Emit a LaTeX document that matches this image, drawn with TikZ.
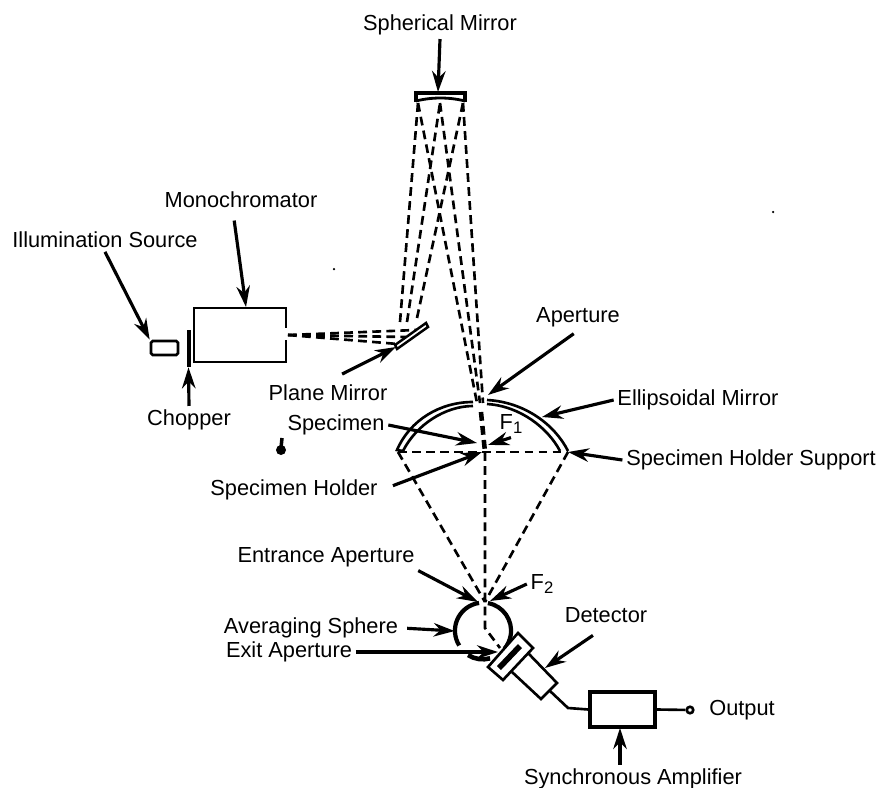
\documentclass[tikz,border=0pt]{standalone}
\usepackage{fontspec}
\setmainfont{Liberation Sans}
\usetikzlibrary{arrows.meta,calc}
\newcommand{\subnum}[1]{\raisebox{-2.5pt}{\fontsize{9.5}{11}\selectfont #1}}
\tikzset{
  lbl/.style={font=\fontsize{12.4}{15}\selectfont,inner sep=2pt},
  pointer/.style={line width=1.8pt,-{Stealth[length=4.2mm,width=2.7mm]}},
  ray/.style={line width=1.5pt,dash pattern=on 5pt off 3pt},
  part/.style={draw,line width=1.5pt,inner sep=0pt}
}
\begin{document}
\begin{tikzpicture}[x=0.02cm,y=-0.02cm]
\useasboundingbox (0,0) rectangle (876,788);
% labels
\node[lbl] (lblSpherical) at (440,25) {Spherical Mirror};
\node[lbl] (lblMono) at (241,200) {Monochromator};
\node[lbl] (lblSource) at (105,240) {Illumination Source};
\node[lbl] (lblChopper) at (189,420) {Chopper};
\node[lbl] (lblPlane) at (328,393) {Plane Mirror};
\node[lbl] (lblAperture) at (578,317) {Aperture};
\node[lbl] (lblEllipsoidal) at (698,400) {Ellipsoidal Mirror};
\node[lbl] (lblSpecimen) at (336,425) {Specimen};
\node[lbl] (lblHolder) at (294,490) {Specimen Holder};
\node[lbl] (lblSupport) at (751,460) {Specimen Holder Support};
\node[lbl] (lblFa) at (511,424) {F\subnum{1}};
\node[lbl] (lblFb) at (542,584) {F\subnum{2}};
\node[lbl] (lblEntrance) at (326,557) {Entrance Aperture};
\node[lbl] (lblAveraging) at (311,628) {Averaging Sphere};
\node[lbl] (lblExit) at (289,652) {Exit Aperture};
\node[lbl] (lblDetector) at (606,615) {Detector};
\node[lbl] (lblOutput) at (742,710) {Output};
\node[lbl] (lblSync) at (633,779) {Synchronous Amplifier};
% source, chopper, monochromator
\node[part,minimum width=0.54cm,minimum height=0.28cm,rounded corners=1pt] (lamp) at (164.5,348) {};
\node[fill=black,minimum width=0.08cm,minimum height=0.74cm,inner sep=0pt] (chopper) at (188.5,348.5) {};
\node[part,minimum width=1.84cm,minimum height=1.08cm] (mono) at (240,335) {};
\fill[white] (283,328) rectangle (289,340);
% plane mirror
\draw[line width=1.4pt] (395,345) -- (426,323) -- (428,327) -- (397,349) -- cycle;
% spherical mirror
\draw[line width=2pt] (416,102) -- (416,93) -- (465,93) -- (465,102);
\draw[line width=1.6pt] (416,101) .. controls (432,97) and (449,97) .. (465,101);
% ellipsoidal mirror
\draw[line width=1.5pt] (403,451) -- (397,450) .. controls (410,420) and (440,402) .. (473,402);
\draw[line width=1.5pt] (403,451) .. controls (416,425) and (445,406) .. (473,406);
\draw[line width=1.5pt] (487,400) .. controls (525,402) and (555,425) .. (568,451);
\draw[line width=1.5pt] (487,404) .. controls (520,406) and (548,428) .. (560,451);
% named points
\coordinate (mSlit) at (288,335);
\coordinate (fa) at (485,452);
\coordinate (fb) at (485,602);
\coordinate (eLeft) at (398,452);
\coordinate (eRight) at (568,452);
\coordinate (bend) at (485,628);
% rays
\foreach \pin/\qin/\pup/\qup/\ps/\pa in {398/344/400/322/418/477,406/337/407/322/440/480,416/330/417/318/463/483}{
  \draw[ray] (mSlit) -- (\pin,\qin);
  \draw[ray] (\pup,\qup) -- (\ps,103);
  \draw[ray] (\ps,103) -- (\pa,403);
}
\draw[ray,line width=2.6pt] (481,412) -- (fa);
\draw[ray] (eLeft) -- (eRight);
\draw[ray] (eLeft) -- (fb);
\draw[ray] (eRight) -- (fb);
\draw[ray] (fa) -- (bend) -- (500,648);
% averaging sphere
\node[minimum size=1.12cm,circle,inner sep=0pt] (sphere) at (483,631) {};
\draw[line width=2.4pt] (sphere.98) arc[start angle=98,end angle=212,radius=0.56cm];
\draw[line width=2.4pt] (sphere.80) arc[start angle=80,end angle=-40,radius=0.56cm];
\draw[line width=2.6pt] (sphere.238) arc[start angle=238,end angle=285,radius=0.56cm];
% detector
\draw[fill=white,line width=1.5pt] (488,667) -- (518,633) -- (533,648) -- (503,680) -- cycle;
\fill (497,666) -- (518,644) -- (522,648) -- (501,670) -- cycle;
\draw[line width=1.5pt] (512,672) -- (541,699) -- (557,683) -- (528,653);
\coordinate (detEnd) at (550,691);
\coordinate (detTip) at (545,668);
% amplifier
\node[part,minimum width=1.3cm,minimum height=0.7cm,line width=1.8pt] (amp) at (622.5,709.5) {};
\node[draw,circle,line width=1.5pt,minimum size=0.13cm,inner sep=0pt] (outPin) at (690,710) {};
\draw[line width=1.5pt] (detEnd) -- (568,708) -- (amp.west);
\draw[line width=1.5pt] (amp.east) -- (outPin);
% pointers
\coordinate (tipMono) at (246,307);
\coordinate (tipPlane) at (396,347);
\coordinate (tipSpherical) at (438,92);
\coordinate (tipAperture) at (488,395);
\coordinate (tipEllipsoidal) at (542,417);
\coordinate (tipSpecimen) at (477,443);
\coordinate (tipHolder) at (482,452);
\coordinate (tipFa) at (488,445);
\coordinate (tipFb) at (490,601);
\coordinate (tipEntrance) at (478,602);
\coordinate (tipExit) at (498,652);
\coordinate (tipSync) at (620,728);
\draw[pointer] (lblSpherical.south) -- (tipSpherical);
\draw[pointer,shorten <=5pt] ($(lblMono.south)+(-8,0)$) -- (tipMono);
\draw[pointer] (lblSource.south) -- (lamp.north west);
\draw[pointer] (lblChopper.north) -- (chopper.south);
\draw[pointer,shorten <=9pt] (lblPlane.north) -- (tipPlane);
\draw[pointer,shorten <=3pt] (lblAperture.south) -- (tipAperture);
\draw[pointer] (lblEllipsoidal.west) -- (tipEllipsoidal);
\draw[pointer] (lblSupport.west) -- (eRight);
\draw[pointer] (lblSpecimen.east) -- (tipSpecimen);
\draw[pointer,shorten <=7pt] (lblHolder.east) -- (tipHolder);
\draw[pointer] (lblFa.south) -- (tipFa);
\draw[pointer] (lblFb.west) -- (tipFb);
\draw[pointer] (lblEntrance.south east) -- (tipEntrance);
\draw[pointer,shorten <=3pt] (lblAveraging.east) -- (sphere.west);
\draw[pointer] (lblExit.east) -- (tipExit);
\draw[pointer,shorten <=9pt] (lblDetector.south) -- (detTip);
\draw[pointer] (tipSync |- lblSync.north) -- (tipSync);
% specks
\fill (281,450) circle[radius=0.1cm];
\draw[line width=2pt] (281,448) -- (282,438);
\fill (334,269) circle[radius=0.025cm];
\fill (773,212) circle[radius=0.025cm];
\end{tikzpicture}
\end{document}
